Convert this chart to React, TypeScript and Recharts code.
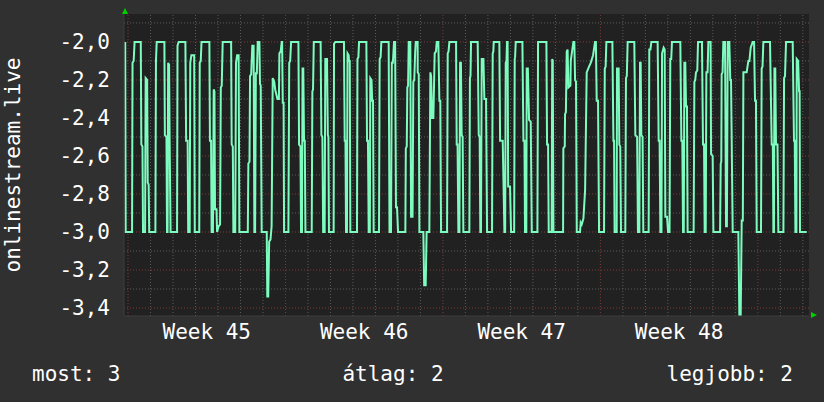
import React from "react";
import { CartesianGrid, Line, LineChart, ReferenceLine, XAxis, YAxis } from "recharts";

// x = hours since the start of week 45, y = value
const week45: [number, number][] = [
  [-3, -2.0], [-2.5, -3.0], [4.3, -3.0], [4.8, -2.11], [6, -2.1], [7, -2.0], [13.6, -2.0], [14.2, -2.54],
  [15.4, -2.55], [16, -3.0], [18.2, -3.0], [18.8, -2.19], [20.4, -2.2], [21, -2.74], [22, -2.75], [22.6, -3.0],
  [29.2, -3.0], [29.8, -2.1], [30.6, -2.0], [38.8, -2.0], [39.3, -2.49], [41, -2.5], [41.6, -3.0], [42.2, -3.0],
  [42.8, -2.11], [43.8, -2.12], [44.4, -2.52], [45.4, -3.0], [52.3, -3.0], [52.8, -2.02], [54, -2.0], [61.2, -2.0],
  [62, -2.52], [63.6, -2.52], [64.2, -3.0], [65.8, -3.0], [66.4, -2.11], [67.6, -2.07], [70.6, -2.07], [71.2, -3.0],
  [76, -3.0], [76.5, -2.11], [77.6, -2.1], [78.4, -2.0], [86.8, -2.0], [87.4, -2.52], [88.6, -2.52], [89.2, -3.0],
  [90.6, -3.0], [91.4, -2.25], [92.2, -2.26], [92.8, -2.88], [94.4, -2.88], [95, -3.0], [96.6, -2.97], [98.2, -2.96],
  [99, -2.24], [100, -2.23], [101, -2.0], [110, -2.0], [110.6, -2.54], [111.8, -2.55], [112.4, -3.0], [114.4, -3.0],
  [115.2, -2.11], [116.4, -2.07], [118, -2.07], [118.8, -3.0], [127.8, -3.0], [128.4, -2.64], [129.6, -2.63],
  [130.2, -2.18], [131.4, -2.17], [132.6, -2.02], [134, -2.02], [134.8, -3.0], [135.6, -3.0], [136.4, -2.16],
  [137.4, -2.17], [138.4, -2.0], [140.2, -2.0], [140.8, -2.22], [141.6, -2.23], [142.6, -3.0], [148, -3.0],
  [148.6, -3.34], [149.6, -3.34], [150.6, -3.05], [152, -3.04], [153.2, -2.97], [154.4, -2.19], [156, -2.21],
  [157, -2.25], [159.4, -2.3], [161, -2.3], [161.5, -2.06], [162.9, -2.05], [164, -2.0], [164.4, -2.0],
  [165.1, -2.32], [166, -2.32], [166.5, -3.0],
];

const week46: [number, number][] = [
  [171.1, -3.0], [172, -2.11], [173, -2.1], [174, -2.0], [181.8, -2.0], [182.5, -2.54], [184, -2.55], [184.6, -3.0],
  [185.6, -3.0], [186.2, -2.14], [187, -2.14], [187.8, -2.52], [188.6, -2.52], [189.3, -3.0], [196, -3.0],
  [196.7, -2.26], [197.4, -2.25], [198.2, -2.0], [205.5, -2.0], [206.3, -2.49], [207.4, -2.5], [208.2, -3.0],
  [209.8, -3.0], [210.5, -2.09], [212.3, -2.09], [213.2, -2.49], [213.8, -2.5], [214.4, -3.0], [219.4, -3.0],
  [219.8, -2.01], [221.2, -2.0], [230.4, -2.0], [231.2, -2.52], [232, -2.52], [232.6, -3.0], [233.6, -3.0],
  [234.2, -2.06], [235.4, -2.07], [235.8, -2.1], [236.6, -2.1], [237.2, -3.0], [244.3, -3.0], [244.8, -2.09],
  [245.8, -2.08], [246.5, -2.0], [254.3, -2.0], [255, -2.52], [256, -2.52], [256.8, -3.0], [258, -3.0],
  [258.5, -2.19], [259.8, -2.2], [260.5, -2.31], [261.4, -2.31], [262.1, -3.0], [267.8, -3.0], [268.5, -2.09],
  [269.5, -2.08], [270.3, -2.0], [278.1, -2.0], [279, -3.0], [280.6, -3.0], [281.5, -2.11], [282.6, -2.11],
  [283.8, -2.0], [285, -2.0], [285.9, -2.87], [287, -2.87], [288.1, -3.0], [295.9, -3.0], [296.4, -2.56],
  [297.4, -2.55], [298, -2.24], [298.8, -2.23], [299.5, -2.0], [301.2, -2.0], [302, -2.92], [303.6, -2.92],
  [304.4, -2.21], [305.4, -2.2], [306.4, -2.05], [307, -2.0], [309, -2.0], [309.1, -2.16], [310.2, -2.17],
  [310.9, -3.0], [315.1, -3.0], [316, -3.28], [317.6, -3.28], [318.6, -3.0], [321.5, -3.0], [322.6, -2.16],
  [323.4, -2.18], [324.4, -2.4], [325.8, -2.4], [327.2, -2.06], [328.6, -2.05], [329.4, -2.0], [331.1, -2.0],
  [332.2, -2.31], [333.2, -2.31], [334, -3.0],
];

const week47: [number, number][] = [
  [340.4, -3.0], [341.1, -2.06], [342, -2.05], [342.9, -2.0], [350, -2.0], [350.7, -2.54], [351.6, -2.54],
  [352.5, -3.0], [353.6, -3.0], [354.3, -2.11], [355.2, -2.11], [356, -2.49], [357, -2.5], [357.8, -3.0],
  [364.2, -3.0], [364.8, -2.19], [365.4, -2.18], [366, -2.0], [373.1, -2.0], [374.2, -2.49], [375.2, -2.5],
  [375.9, -3.0], [376.6, -3.0], [377.4, -2.09], [379.2, -2.09], [380.2, -2.3], [382, -2.3], [383.1, -3.0],
  [388.4, -3.0], [389.1, -2.06], [389.8, -2.05], [390.2, -2.0], [396.2, -2.0], [397, -2.52], [399.8, -2.52],
  [401.6, -3.0], [402.4, -3.0], [403, -2.11], [403.8, -2.1], [404.4, -2.0], [405, -2.0], [405.6, -2.76],
  [407.6, -2.76], [408.7, -3.0], [412, -3.0], [412.6, -2.09], [413, -2.08], [413.7, -2.0], [420.8, -2.0],
  [421.9, -2.52], [423, -2.52], [423.6, -3.0], [425, -3.0], [425.4, -2.14], [426.6, -2.14], [427.9, -2.41],
  [429.7, -2.42], [430.8, -3.0], [436.8, -3.0], [437.5, -2.0], [446.4, -2.0], [447.1, -2.54], [448.2, -2.54],
  [448.9, -3.0], [452, -3.0], [452.6, -2.09], [453.2, -2.1], [453.9, -3.0], [464.2, -3.0], [464.5, -2.56],
  [466, -2.55], [466.3, -2.38], [467.2, -2.37], [468.1, -2.05], [469, -2.04], [469.9, -2.24], [472, -2.23],
  [472.4, -2.1], [475.2, -2.0], [476.2, -2.0], [477, -2.2], [478, -2.21], [478.8, -3.0], [482.3, -3.0],
  [483, -2.95], [484.1, -2.96], [485.9, -2.93], [487.7, -2.78], [489.4, -2.16], [491.9, -2.13], [493.7, -2.11],
  [496.2, -2.07], [498.3, -2.0], [499.2, -2.0], [500.1, -2.31], [501.5, -2.31], [502.6, -3.0],
];

const week48: [number, number][] = [
  [507.9, -3.0], [508.7, -2.14], [509.6, -2.13], [510.4, -2.0], [516.8, -2.0], [517.9, -2.52], [518.6, -2.52],
  [519.2, -3.0], [521.4, -3.0], [521.7, -2.14], [523.5, -2.14], [524.2, -2.54], [525.2, -2.55], [526, -3.0],
  [530.6, -3.0], [531.3, -2.19], [532.2, -2.18], [533.1, -2.0], [540.2, -2.0], [541.3, -2.49], [543.2, -2.5],
  [544.1, -3.0], [545.6, -3.0], [546.3, -2.11], [547, -2.11], [547.7, -2.49], [549, -2.5], [549.8, -3.0],
  [555.5, -3.0], [556.2, -2.04], [557.4, -2.04], [558.4, -2.0], [565.1, -2.0], [566.2, -2.52], [567.2, -2.52],
  [568, -3.0], [569.2, -3.0], [569.8, -2.06], [571.5, -2.03], [572.6, -2.04], [573.3, -2.92], [575.1, -2.92],
  [576.2, -3.0], [577.8, -3.0], [578.6, -2.09], [579.6, -2.09], [580.4, -2.0], [589.3, -2.0], [590.4, -2.52],
  [591.4, -2.52], [592.2, -3.0], [593, -3.0], [593.6, -2.11], [594.6, -2.11], [595.4, -2.34], [596.4, -2.34],
  [597.1, -3.0], [603.5, -3.0], [604.3, -2.21], [605.2, -2.2], [606, -2.16], [607.4, -2.15], [608.2, -2.0],
  [612.4, -2.0], [613.5, -2.54], [614.6, -2.54], [615.3, -3.0], [616.4, -3.0], [617.1, -2.16], [618.4, -2.16],
  [619.2, -2.0], [621.6, -2.0], [622.1, -2.59], [623.8, -2.6], [624.6, -3.0], [631.7, -3.0], [632.4, -2.64],
  [633, -2.63], [633.4, -2.17], [634.4, -2.16], [635.2, -2.0], [637, -2.0], [638.1, -2.97], [639, -2.97],
  [639.9, -2.0], [641.6, -2.0], [642.6, -2.2], [643.4, -2.2], [645.2, -3.0], [651.2, -3.0], [652.3, -3.44],
  [653.7, -3.44], [654.8, -2.94], [656, -2.94], [656.6, -2.16], [660.1, -2.16], [661.9, -2.1], [663, -2.1],
  [664.4, -2.03], [666.5, -2.0], [668, -2.0], [669, -2.31], [670, -2.31], [670.8, -3.0], [675.4, -3.0],
  [676.1, -2.14], [677, -2.13], [677.9, -2.0], [685, -2.0], [686.8, -2.54], [688, -2.54], [688.6, -3.0],
  [689.2, -3.0], [689.7, -2.14], [690.6, -2.14], [691.4, -2.54], [693, -2.54], [693.9, -3.0], [699.3, -3.0],
  [700, -2.19], [701, -2.18], [702.1, -2.0], [709.2, -2.0], [710.6, -2.52], [711.4, -2.52], [712.1, -3.0],
  [713.2, -3.0], [713.5, -2.09], [715, -2.1], [716, -2.26], [716.6, -2.26], [717, -3.0], [724.2, -3.0],
];

const weekLabels = ["Week 45", "Week 46", "Week 47", "Week 48"];
const weekLabelHours = [84, 252, 420, 588];
const weekStartHours = [0, 168, 336, 504, 672];
const dayHours = Array.from({ length: 31 }, (_, i) => i * 24).filter((h) => h % 168 !== 0);
const yTicks = [-3.4, -3.2, -3.0, -2.8, -2.6, -2.4, -2.2, -2.0];
const yMinor = [-3.3, -3.1, -2.9, -2.7, -2.5, -2.3, -2.1, -1.9];

const legendItems = ["most: 3", "átlag: 2", "legjobb: 2"];

const data = [...week45, ...week46, ...week47, ...week48].map(([t, v]) => ({ t, v }));

const FONT = "'DejaVu Sans Mono', monospace";
const MINOR = "#5c5c5c";
const MAJOR = "#7e3b3b";

export default function App() {
  return (
    <div style={{ position: "absolute", left: 0, top: 0, width: 824, height: 402, background: "#303030" }}>
      <LineChart width={824} height={402} data={data} margin={{ top: 14, right: 15, left: 0, bottom: 56 }}>
        <CartesianGrid fill="#212121" horizontal={false} vertical={false} />
        {dayHours.map((h) => (
          <ReferenceLine key={"d" + h} x={h} stroke={MINOR} strokeDasharray="1 2" />
        ))}
        {yMinor.map((y) => (
          <ReferenceLine key={"m" + y} y={y} stroke={MINOR} strokeDasharray="1 2" />
        ))}
        {yTicks.map((y) => (
          <ReferenceLine key={"y" + y} y={y} stroke={MAJOR} strokeDasharray="1 2" />
        ))}
        {weekStartHours.map((h) => (
          <ReferenceLine key={"w" + h} x={h} stroke={MAJOR} strokeDasharray="1 2" />
        ))}
        <XAxis
          dataKey="t"
          type="number"
          domain={[-4.3, 726.6]}
          allowDataOverflow
          ticks={weekLabelHours}
          tickFormatter={(h: number) => weekLabels[weekLabelHours.indexOf(h)] ?? ""}
          tick={{ fill: "#ffffff", fontSize: 21, fontFamily: FONT }}
          tickLine={false}
          tickSize={0}
          tickMargin={8}
          axisLine={{ stroke: "#3c3c3c" }}
          height={30}
        />
        <YAxis
          type="number"
          domain={[-3.442, -1.853]}
          allowDataOverflow
          ticks={yTicks}
          tickFormatter={(v: number) => v.toFixed(1).replace(".", ",")}
          tick={{ fill: "#ffffff", fontSize: 21, fontFamily: FONT }}
          tickLine={false}
          tickSize={0}
          tickMargin={14}
          axisLine={{ stroke: "#3c3c3c" }}
          width={124}
          label={{
            content: (props: any) => {
              const vb = props.viewBox || {};
              const x = (vb.x ?? 0) + 19.5;
              const y = (vb.y ?? 14) + (vb.height ?? 302) / 2;
              return (
                <text
                  x={x}
                  y={y}
                  transform={`rotate(-90, ${x}, ${y})`}
                  textAnchor="middle"
                  fill="#ffffff"
                  fontSize={21}
                  fontFamily={FONT}
                >
                  onlinestream.live
                </text>
              );
            },
          }}
        />
        <Line
          type="linear"
          dataKey="v"
          stroke="#7dfcbf"
          strokeWidth={2}
          dot={false}
          activeDot={false}
          isAnimationActive={false}
        />
      </LineChart>
      <svg width={824} height={402} style={{ position: "absolute", left: 0, top: 0, pointerEvents: "none" }}>
        <polygon points="122,14 128,14 125,8" fill="#00d000" />
        <polygon points="811,312 811,318 817,315" fill="#00d000" />
        <g fill="#ffffff" fontSize={21} fontFamily={FONT}>
          <text x={32} y={381} textAnchor="start">{legendItems[0]}</text>
          <text x={393} y={381} textAnchor="middle">{legendItems[1]}</text>
          <text x={793} y={381} textAnchor="end">{legendItems[2]}</text>
        </g>
      </svg>
    </div>
  );
}
